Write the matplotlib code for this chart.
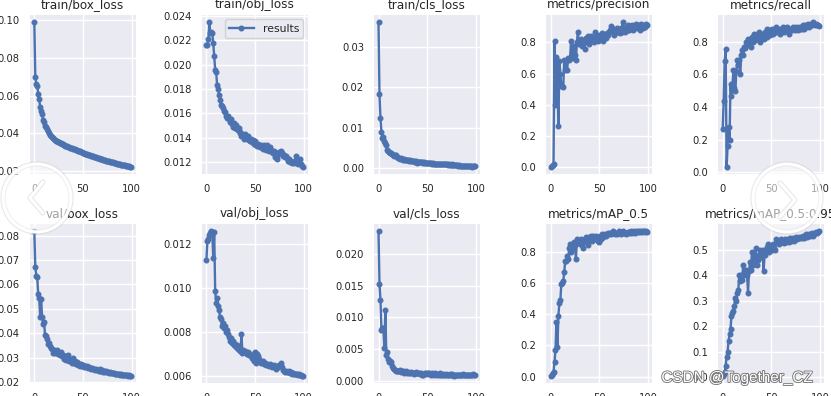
import matplotlib
matplotlib.use('Agg')
import matplotlib.pyplot as plt
from matplotlib.patches import Circle
import matplotlib.patheffects as pe

epochs = list(range(100))

train_box_loss = [
    0.099, 0.070, 0.066, 0.065, 0.061, 0.058, 0.054, 0.052, 0.050, 0.047,
    0.046, 0.044, 0.043, 0.042, 0.041, 0.040, 0.039, 0.0385, 0.038, 0.0375,
    0.037, 0.0365, 0.036, 0.0357, 0.0354, 0.0351, 0.0348, 0.0345, 0.0342, 0.034,
    0.0337, 0.0335, 0.0333, 0.0331, 0.0329, 0.0327, 0.0325, 0.0323, 0.0321, 0.0319,
    0.0317, 0.0315, 0.0313, 0.0311, 0.0309, 0.0307, 0.0305, 0.0303, 0.0301, 0.0299,
    0.0294, 0.0292, 0.029, 0.0289, 0.0287, 0.0285, 0.0283, 0.0282, 0.028, 0.0278,
    0.0276, 0.0275, 0.0273, 0.0271, 0.027, 0.0268, 0.0266, 0.0265, 0.0263, 0.0262,
    0.026, 0.0259, 0.0257, 0.0256, 0.0254, 0.0252, 0.0251, 0.025, 0.0248, 0.0247,
    0.0245, 0.0244, 0.0242, 0.0241, 0.024, 0.0238, 0.0237, 0.0236, 0.0234, 0.0233,
    0.0232, 0.0231, 0.0229, 0.0228, 0.0227, 0.0226, 0.0224, 0.0223, 0.0222, 0.0221]

train_obj_loss = [
    0.0216, 0.0216, 0.0221, 0.0235, 0.0226, 0.0227, 0.0226, 0.0218, 0.0207, 0.0196,
    0.0194, 0.0183, 0.0180, 0.0175, 0.0171, 0.0167, 0.0166, 0.0164, 0.0162, 0.0161,
    0.0158, 0.0156, 0.0158, 0.0155, 0.0153, 0.0155, 0.0151, 0.0149, 0.0152, 0.0148,
    0.0150, 0.0147, 0.0146, 0.0148, 0.0144, 0.0145, 0.0141, 0.0143, 0.0142, 0.0139,
    0.0143, 0.0140, 0.0139, 0.0141, 0.0138, 0.0137, 0.0139, 0.0136, 0.0138, 0.0135,
    0.0137, 0.0134, 0.0133, 0.0135, 0.0133, 0.0132, 0.0134, 0.0133, 0.0131, 0.0134,
    0.0132, 0.0130, 0.0134, 0.0131, 0.0129, 0.0132, 0.0130, 0.0128, 0.0127, 0.0129,
    0.0124, 0.0126, 0.0122, 0.0125, 0.0127, 0.0128, 0.0127, 0.0129, 0.0127, 0.0125,
    0.0126, 0.0124, 0.0125, 0.0123, 0.0121, 0.0122, 0.0120, 0.0121, 0.0119, 0.0120,
    0.0119, 0.0121, 0.0125, 0.0119, 0.0118, 0.0121, 0.0122, 0.0118, 0.0117, 0.0116]

train_cls_loss = [
    0.0362, 0.0183, 0.0123, 0.0090, 0.0075, 0.0078, 0.0068, 0.0062, 0.0056, 0.0045,
    0.0042, 0.0040, 0.0037, 0.0036, 0.0034, 0.0032, 0.0030, 0.0033, 0.0031, 0.0027,
    0.0026, 0.0025, 0.0023, 0.0024, 0.0022, 0.0021, 0.0022, 0.0020, 0.0020, 0.0019,
    0.0019, 0.0018, 0.0019, 0.0018, 0.0017, 0.0018, 0.0017, 0.0016, 0.0017, 0.0016,
    0.0013, 0.0016, 0.0015, 0.0014, 0.0015, 0.0014, 0.0013, 0.0014, 0.0013, 0.0012,
    0.0013, 0.0012, 0.0012, 0.0013, 0.0012, 0.0011, 0.0012, 0.0011, 0.0011, 0.0010,
    0.0011, 0.0010, 0.0010, 0.0011, 0.0009, 0.0010, 0.0009, 0.0009, 0.0010, 0.0009,
    0.0009, 0.0008, 0.0009, 0.0008, 0.0008, 0.0009, 0.0008, 0.0007, 0.0008, 0.0007,
    0.0007, 0.0007, 0.0006, 0.0007, 0.0006, 0.0006, 0.0006, 0.0005, 0.0006, 0.0005,
    0.0005, 0.0005, 0.0004, 0.0005, 0.0004, 0.0004, 0.0003, 0.0004, 0.0005, 0.0004]

precision = [
    0.000, 0.005, 0.010, 0.020, 0.810, 0.400, 0.705, 0.520, 0.260, 0.680,
    0.600, 0.520, 0.520, 0.515, 0.690, 0.620, 0.680, 0.625, 0.700, 0.690,
    0.700, 0.810, 0.700, 0.760, 0.780, 0.720, 0.690, 0.800, 0.870, 0.790,
    0.800, 0.820, 0.780, 0.800, 0.810, 0.760, 0.830, 0.800, 0.840, 0.790,
    0.820, 0.810, 0.840, 0.820, 0.830, 0.800, 0.870, 0.830, 0.850, 0.810,
    0.840, 0.850, 0.830, 0.860, 0.810, 0.840, 0.850, 0.830, 0.860, 0.850,
    0.870, 0.880, 0.905, 0.890, 0.870, 0.850, 0.860, 0.880, 0.890, 0.870,
    0.880, 0.860, 0.890, 0.870, 0.930, 0.880, 0.870, 0.900, 0.890, 0.880,
    0.910, 0.880, 0.900, 0.890, 0.910, 0.880, 0.900, 0.890, 0.920, 0.900,
    0.890, 0.910, 0.880, 0.920, 0.900, 0.890, 0.910, 0.900, 0.920, 0.915]

recall = [
    0.265, 0.440, 0.680, 0.755, 0.035, 0.160, 0.280, 0.200, 0.540, 0.470,
    0.530, 0.630, 0.520, 0.500, 0.620, 0.690, 0.660, 0.690, 0.600, 0.720,
    0.750, 0.720, 0.770, 0.760, 0.800, 0.780, 0.820, 0.790, 0.810, 0.770,
    0.830, 0.800, 0.850, 0.810, 0.840, 0.820, 0.830, 0.860, 0.800, 0.840,
    0.830, 0.850, 0.820, 0.860, 0.840, 0.880, 0.830, 0.850, 0.870, 0.840,
    0.860, 0.880, 0.850, 0.870, 0.860, 0.890, 0.860, 0.870, 0.880, 0.850,
    0.870, 0.880, 0.890, 0.860, 0.880, 0.870, 0.890, 0.880, 0.850, 0.870,
    0.880, 0.870, 0.890, 0.880, 0.870, 0.890, 0.880, 0.870, 0.890, 0.880,
    0.890, 0.880, 0.900, 0.890, 0.880, 0.900, 0.890, 0.900, 0.910, 0.890,
    0.900, 0.910, 0.900, 0.920, 0.910, 0.900, 0.910, 0.905, 0.900, 0.895]

val_box_loss = [
    0.0818, 0.0672, 0.0636, 0.0630, 0.0560, 0.0545, 0.0465, 0.0540, 0.0466, 0.0440,
    0.0445, 0.0395, 0.0388, 0.0375, 0.0355, 0.0360, 0.0348, 0.0340, 0.0335, 0.0320,
    0.0330, 0.0318, 0.0325, 0.0332, 0.0315, 0.0320, 0.0310, 0.0322, 0.0305, 0.0312,
    0.0300, 0.0295, 0.0305, 0.0290, 0.0300, 0.0312, 0.0285, 0.0295, 0.0288, 0.0280,
    0.0300, 0.0278, 0.0285, 0.0275, 0.0282, 0.0272, 0.0276, 0.0268, 0.0274, 0.0265,
    0.0270, 0.0262, 0.0268, 0.0260, 0.0265, 0.0258, 0.0262, 0.0257, 0.0255, 0.0258,
    0.0252, 0.0255, 0.0250, 0.0253, 0.0248, 0.0250, 0.0246, 0.0252, 0.0245, 0.0247,
    0.0248, 0.0243, 0.0246, 0.0242, 0.0244, 0.0240, 0.0242, 0.0238, 0.0240, 0.0237,
    0.0238, 0.0236, 0.0237, 0.0234, 0.0235, 0.0233, 0.0234, 0.0232, 0.0231, 0.0232,
    0.0230, 0.0231, 0.0229, 0.0230, 0.0228, 0.0229, 0.0227, 0.0228, 0.0226, 0.0227]

val_obj_loss = [
    0.01127, 0.01217, 0.01225, 0.01245, 0.01250, 0.01260, 0.01255, 0.01140, 0.01255, 0.00990,
    0.00935, 0.00955, 0.00920, 0.00900, 0.00870, 0.00860, 0.00830, 0.00840, 0.00820, 0.00830,
    0.00800, 0.00810, 0.00790, 0.00780, 0.00760, 0.00775, 0.00750, 0.00760, 0.00740, 0.00745,
    0.00735, 0.00740, 0.00725, 0.00730, 0.00720, 0.00715, 0.00790, 0.00705, 0.00720, 0.00710,
    0.00715, 0.00705, 0.00700, 0.00710, 0.00695, 0.00700, 0.00690, 0.00685, 0.00680, 0.00670,
    0.00710, 0.00660, 0.00700, 0.00690, 0.00680, 0.00670, 0.00660, 0.00665, 0.00670, 0.00655,
    0.00660, 0.00650, 0.00655, 0.00650, 0.00645, 0.00655, 0.00650, 0.00640, 0.00645, 0.00650,
    0.00640, 0.00635, 0.00640, 0.00645, 0.00640, 0.00650, 0.00645, 0.00660, 0.00640, 0.00630,
    0.00625, 0.00620, 0.00625, 0.00618, 0.00620, 0.00622, 0.00615, 0.00620, 0.00612, 0.00615,
    0.00610, 0.00612, 0.00608, 0.00610, 0.00606, 0.00608, 0.00604, 0.00605, 0.00602, 0.00603]

val_cls_loss = [
    0.0236, 0.0153, 0.0128, 0.0080, 0.0084, 0.0083, 0.0052, 0.0112, 0.0041, 0.0045,
    0.0034, 0.0030, 0.0031, 0.0029, 0.0023, 0.0020, 0.0018, 0.0017, 0.0016, 0.0015,
    0.0016, 0.0015, 0.0017, 0.0014, 0.0016, 0.0015, 0.0013, 0.0014, 0.0015, 0.0013,
    0.0014, 0.0012, 0.0013, 0.0014, 0.0012, 0.0013, 0.0011, 0.0013, 0.0012, 0.0014,
    0.0013, 0.0012, 0.0013, 0.0011, 0.0012, 0.0010, 0.0009, 0.0011, 0.0012, 0.0013,
    0.0011, 0.0012, 0.0013, 0.0011, 0.0010, 0.0012, 0.0011, 0.0010, 0.0012, 0.0011,
    0.0010, 0.0011, 0.0010, 0.0012, 0.0009, 0.0010, 0.0011, 0.0009, 0.0010, 0.0011,
    0.0010, 0.0009, 0.0010, 0.0011, 0.0009, 0.0010, 0.0011, 0.0009, 0.0008, 0.0009,
    0.0010, 0.0009, 0.0010, 0.0009, 0.0010, 0.0009, 0.0010, 0.0011, 0.0009, 0.0010,
    0.0010, 0.0009, 0.0010, 0.0010, 0.0009, 0.0010, 0.0010, 0.0011, 0.0010, 0.0010]

map_50 = [
    0.005, 0.010, 0.020, 0.030, 0.095, 0.170, 0.350, 0.190, 0.390, 0.470,
    0.490, 0.590, 0.600, 0.610, 0.670, 0.740, 0.740, 0.770, 0.750, 0.820,
    0.850, 0.800, 0.840, 0.820, 0.860, 0.840, 0.750, 0.880, 0.870, 0.860,
    0.850, 0.880, 0.840, 0.820, 0.870, 0.880, 0.890, 0.860, 0.840, 0.890,
    0.890, 0.900, 0.880, 0.870, 0.900, 0.890, 0.880, 0.900, 0.890, 0.870,
    0.860, 0.900, 0.880, 0.910, 0.890, 0.900, 0.910, 0.900, 0.910, 0.920,
    0.910, 0.920, 0.910, 0.920, 0.930, 0.920, 0.910, 0.920, 0.910, 0.920,
    0.930, 0.920, 0.910, 0.920, 0.930, 0.920, 0.920, 0.910, 0.920, 0.925,
    0.920, 0.925, 0.920, 0.930, 0.920, 0.925, 0.930, 0.920, 0.925, 0.930,
    0.925, 0.930, 0.925, 0.930, 0.925, 0.930, 0.930, 0.925, 0.930, 0.925]

map_50_95 = [
    0.005, 0.010, 0.020, 0.045, 0.080, 0.100, 0.140, 0.170, 0.190, 0.240,
    0.250, 0.260, 0.280, 0.310, 0.300, 0.330, 0.340, 0.400, 0.375, 0.400,
    0.380, 0.440, 0.400, 0.410, 0.420, 0.400, 0.330, 0.415, 0.450, 0.420,
    0.490, 0.440, 0.470, 0.450, 0.505, 0.440, 0.460, 0.480, 0.500, 0.470,
    0.490, 0.500, 0.415, 0.480, 0.490, 0.510, 0.500, 0.520, 0.490, 0.505,
    0.510, 0.500, 0.520, 0.505, 0.500, 0.540, 0.530, 0.535, 0.520, 0.530,
    0.540, 0.530, 0.535, 0.525, 0.540, 0.530, 0.535, 0.540, 0.530, 0.545,
    0.535, 0.540, 0.545, 0.535, 0.540, 0.550, 0.540, 0.545, 0.550, 0.545,
    0.550, 0.545, 0.555, 0.550, 0.545, 0.555, 0.560, 0.550, 0.555, 0.560,
    0.555, 0.560, 0.565, 0.555, 0.560, 0.565, 0.570, 0.565, 0.570, 0.572]

titles = ['train/box_loss', 'train/obj_loss', 'train/cls_loss', 'metrics/precision',
          'metrics/recall', 'val/box_loss', 'val/obj_loss', 'val/cls_loss',
          'metrics/mAP_0.5', 'metrics/mAP_0.5:0.95']
series = [train_box_loss, train_obj_loss, train_cls_loss, precision, recall,
          val_box_loss, val_obj_loss, val_cls_loss, map_50, map_50_95]
x_ticks = [0, 50, 100]
y_ticks = [
    [0.02, 0.04, 0.06, 0.08, 0.10],
    [0.012, 0.014, 0.016, 0.018, 0.020, 0.022, 0.024],
    [0.00, 0.01, 0.02, 0.03],
    [0.0, 0.2, 0.4, 0.6, 0.8],
    [0.0, 0.2, 0.4, 0.6, 0.8],
    [0.02, 0.03, 0.04, 0.05, 0.06, 0.07, 0.08],
    [0.006, 0.008, 0.010, 0.012],
    [0.000, 0.005, 0.010, 0.015, 0.020],
    [0.0, 0.2, 0.4, 0.6, 0.8],
    [0.0, 0.1, 0.2, 0.3, 0.4, 0.5],
]

plt.rcParams['font.family'] = ['DejaVu Sans']

W, H = 831, 396
fig = plt.figure(figsize=(W / 100, H / 100), dpi=100, facecolor='white')

col_left = [29.5, 201.6, 373.7, 545.8, 717.9]
row_top = [15, 224]
aw, ah = 106, 159
line_color = '#4c72b0'
text_color = '#262626'

for i, (title, ys, yt) in enumerate(zip(titles, series, y_ticks)):
    r, c = divmod(i, 5)
    ax = fig.add_axes([col_left[c] / W, 1 - (row_top[r] + ah) / H, aw / W, ah / H])
    ax.set_facecolor('#eaeaf2')
    ax.plot(epochs, ys, marker='.', color=line_color, lw=1.7, ms=6.6, label='results')
    ax.set_title(title, fontsize=8.65, pad=5, color=text_color)
    ax.set_xticks(x_ticks)
    ax.set_yticks(yt)
    ax.grid(True, color='white', lw=1.0)
    ax.set_axisbelow(True)
    for s in ax.spines.values():
        s.set_visible(False)
    ax.tick_params(length=0, pad=7, labelsize=7.2, colors=text_color)
    if i == 1:
        leg = ax.legend(loc='upper right', fontsize=7.8, frameon=True,
                        facecolor='#eaeaf2', edgecolor='#cccccc', framealpha=0.8,
                        borderpad=0.4, handlelength=2.3, borderaxespad=0.4)
        for t in leg.get_texts():
            t.set_color(text_color)

# overlay: image-viewer navigation circles and watermark
ov = fig.add_axes([0, 0, 1, 1], zorder=20)
ov.set_xlim(0, W)
ov.set_ylim(H, 0)
ov.axis('off')
ov.patch.set_alpha(0)
ring_fx = [pe.Stroke(linewidth=3.8, foreground=(0.75, 0.75, 0.75, 0.35)), pe.Normal()]
for cx, cy, chev in [(37, 198, [(43, 182), (30, 198), (43, 213)]),
                     (787, 198, [(780, 183), (795, 200), (780, 217)])]:
    ov.add_patch(Circle((cx, cy), 34, facecolor=(1, 1, 1, 0.35),
                        edgecolor='white', lw=2.2, path_effects=ring_fx))
    xs, ys_ = zip(*chev)
    ov.plot(xs, ys_, color='white', lw=2.2, solid_capstyle='round',
            path_effects=ring_fx)
ov.text(737, 378, 'CSDN @Together_CZ', ha='center', va='center', fontsize=11,
        family=['Liberation Sans', 'DejaVu Sans'], color='white',
        path_effects=[pe.withStroke(linewidth=1.3, foreground='#777777')])

fig.savefig('out.png', dpi=100, facecolor='white')
